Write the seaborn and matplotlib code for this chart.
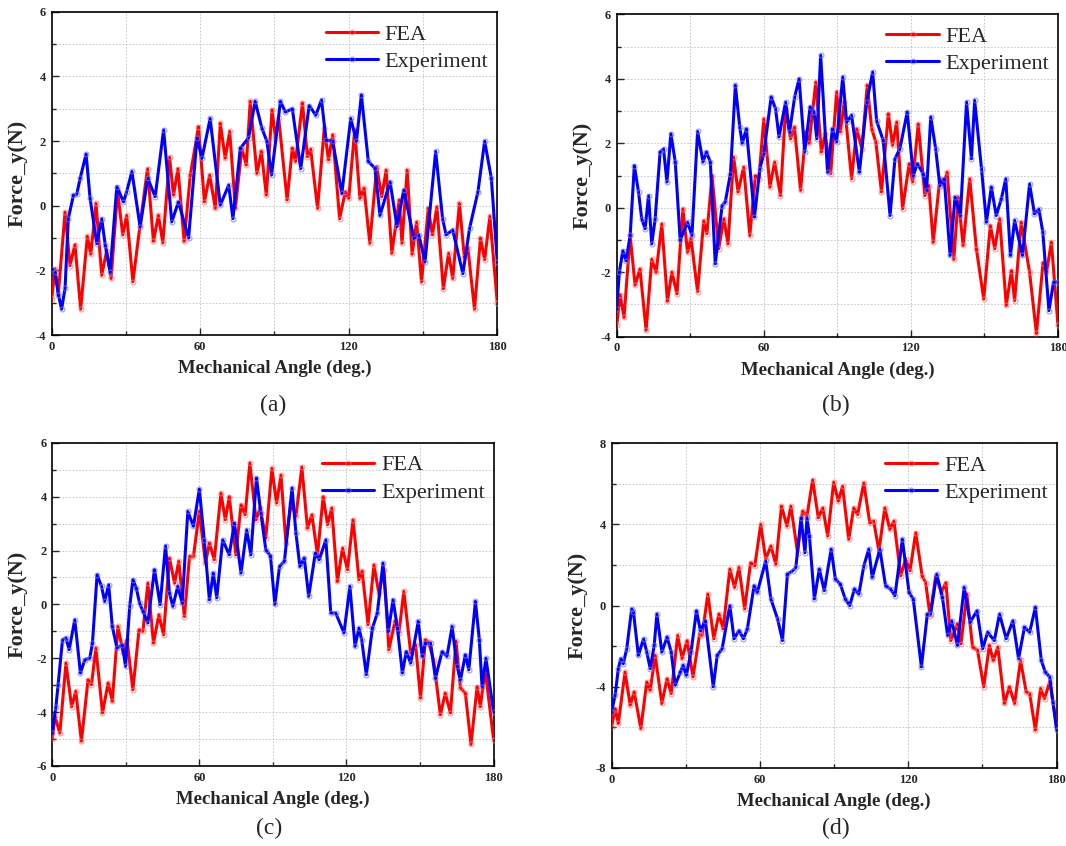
import pandas as pd
import matplotlib
matplotlib.use('Agg')
import matplotlib.pyplot as plt
import seaborn as sns
from matplotlib.ticker import MultipleLocator

# ---- data (peaks / troughs) ----
# (a)
fea_a_x = [0, 1.3, 2.7, 5.4, 7.4, 9.4, 11.7, 14.4, 15.8, 17.9, 20.2, 22.2, 24.0, 26.6, 28.7, 30.3, 32.8, 35.7,
           38.7, 41.1, 43.1, 44.9, 47.6, 49.2, 51.0, 53.5, 56.0, 59.3, 61.7, 63.8, 66.1, 68.1, 70.1, 71.9, 74.2,
           76.8, 78.6, 80.2, 82.9, 84.7, 86.7, 89.0, 90.4, 91.7, 95.1, 97.2, 98.5, 101.3, 103.3, 104.6, 107.4,
           110.1, 111.8, 113.5, 116.3, 118.6, 120.0, 122.4, 124.5, 126.2, 128.5, 131.3, 133.3, 135.1, 137.4,
           140.4, 141.5, 143.6, 145.6, 147.4, 149.4, 152.1, 153.8, 155.6, 158.2, 160.3, 162.0, 164.7, 166.7,
           168.1, 170.8, 173.2, 174.9, 177.0, 180]
fea_a_y = [-2.9, -1.95, -2.7, -0.2, -1.85, -1.2, -3.2, -0.95, -1.5, 0.07, -2.15, -1.4, -2.25, 0.45, -0.9, -0.3,
           -2.35, -0.6, 1.15, -1.1, -0.3, -1.15, 1.5, 0.33, 1.15, -1.1, 0.95, 2.45, 0.12, 0.95, -0.08, 2.55, 1.47,
           2.3, -0.08, 1.78, 1.26, 3.23, 1.0, 1.68, 0.33, 2.97, 2.1, 2.7, 0.18, 1.78, 1.37, 3.18, 1.52, 1.75, -0.08,
           2.4, 1.42, 2.2, -0.4, 0.43, 0.23, 2.35, 0.23, 0.54, -1.16, 1.21, 0.28, 1.1, -1.47, 0.18, -1.16, 1.1,
           -1.5, -0.5, -2.36, -0.08, -0.9, -0.03, -2.57, -1.47, -2.25, 0.07, -1.6, -1.3, -3.2, -1.0, -1.67, -0.33,
           -3.0]
exp_a_x = [0, 1.3, 2.7, 4.0, 5.4, 6.7, 8.8, 10.1, 11.5, 13.9, 15.5, 18.2, 20.2, 21.6, 23.6, 26.3, 29.0, 30.3,
           32.4, 35.7, 38.8, 41.8, 45.2, 48.5, 51.2, 55.3, 58.7, 60.7, 64.0, 68.1, 71.5, 73.2, 76.2, 79.5, 82.2,
           84.9, 86.9, 88.8, 92.4, 94.4, 97.2, 100.6, 104.0, 106.7, 109.0, 110.8, 113.5, 117.2, 120.8, 123.1,
           125.1, 127.9, 130.6, 132.6, 136.7, 139.5, 142.2, 146.3, 148.3, 150.8, 155.1, 157.9, 159.3, 162.0,
           166.1, 168.8, 172.2, 174.9, 177.6, 180]
exp_a_y = [-1.95, -2.05, -2.75, -3.2, -2.55, -0.4, 0.33, 0.35, 0.85, 1.6, 0.23, -1.17, -0.4, -1.2, -2.05, 0.59,
           0.12, 0.44, 1.06, -0.65, 0.85, 0.28, 2.35, -0.5, 0.12, -1.0, 2.1, 1.47, 2.7, 0.02, 0.64, -0.4, 1.78,
           2.1, 3.23, 2.4, 2.0, 0.95, 3.23, 2.9, 3.0, 1.15, 3.1, 2.8, 3.28, 2.03, 2.0, 0.38, 2.7, 2.0, 3.43, 1.37,
           1.16, -0.3, 0.74, -0.65, 0.49, -1.0, -0.9, -1.74, 1.68, -0.4, -0.9, -0.75, -2.1, -0.7, 0.44, 2.0,
           0.85, -1.74]

# (b)
fea_b_x = [0, 1.4, 3.0, 5.5, 7.5, 9.5, 12.0, 14.3, 16.1, 18.4, 20.7, 22.5, 24.6, 27.0, 28.9, 30.3, 33.0, 35.5,
           36.8, 38.9, 41.6, 43.7, 45.4, 47.7, 49.5, 51.8, 54.3, 56.6, 58.0, 60.0, 62.5, 64.4, 66.8, 68.9, 70.9,
           72.5, 75.0, 77.1, 78.5, 81.2, 83.5, 85.0, 87.3, 89.7, 91.2, 92.8, 95.8, 97.9, 100.0, 102.2, 104.0,
           105.7, 108.0, 110.8, 112.5, 114.2, 116.6, 119.3, 120.7, 123.0, 125.7, 127.3, 129.1, 131.8, 133.2,
           134.8, 137.5, 139.3, 141.3, 144.0, 146.7, 149.7, 152.4, 154.2, 156.2, 158.9, 161.0, 162.3, 165.0,
           168.4, 171.2, 173.9, 175.3, 177.3, 180]
fea_b_y = [-3.65, -2.7, -3.4, -0.86, -2.4, -1.9, -3.8, -1.6, -2.0, -0.5, -2.9, -2.0, -2.67, -0.03, -1.38, -0.95,
           -2.6, -0.4, -0.8, 1.0, -1.27, -0.34, -1.12, 1.57, 0.49, 1.26, -0.86, 1.0, 0.9, 2.76, 0.64, 1.42, 0.38,
           3.07, 2.14, 2.5, 0.54, 2.35, 2.0, 3.9, 1.73, 2.3, 1.06, 3.6, 2.35, 3.28, 0.9, 2.45, 1.83, 3.8, 2.45,
           2.04, 0.49, 2.92, 1.94, 2.66, -0.03, 1.37, 0.8, 2.6, 0.38, 0.69, -1.07, 0.9, 0.7, 1.1, -1.6, 0.33,
           -1.17, 0.9, -1.27, -2.83, -0.55, -1.27, -0.34, -3.03, -1.95, -2.88, -0.45, -2.0, -3.9, -1.7, -2.0,
           -1.07, -3.65]
exp_b_x = [0, 1.1, 2.5, 3.8, 5.5, 7.2, 8.9, 10.2, 11.6, 13.0, 14.3, 15.7, 17.7, 19.1, 20.5, 22.1, 23.9, 25.9,
           28.9, 30.7, 33.0, 35.2, 36.6, 38.2, 40.2, 43.0, 44.3, 46.4, 48.4, 50.2, 51.2, 52.9, 56.2, 58.4, 60.0,
           63.0, 64.8, 66.2, 68.9, 70.5, 72.6, 74.4, 76.7, 78.9, 80.5, 81.6, 83.2, 86.0, 88.0, 89.7, 92.2, 93.8,
           95.8, 99.0, 102.0, 104.4, 106.0, 108.7, 111.5, 113.5, 115.5, 118.5, 121.0, 122.6, 125.0, 126.4, 128.1,
           130.1, 131.8, 133.6, 136.0, 138.0, 140.2, 142.7, 144.7, 146.0, 148.8, 150.8, 152.8, 154.8, 156.9,
           158.7, 160.6, 162.3, 165.5, 168.4, 170.4, 172.2, 173.8, 176.3, 178.2, 180]
exp_b_y = [-3.14, -2.0, -1.33, -1.64, -0.86, 1.31, 0.49, -0.34, -0.65, 0.38, -1.12, -0.34, 1.73, 1.83, 0.8, 2.3,
           1.42, -1.0, -0.45, -0.86, 2.37, 1.42, 1.73, 1.42, -1.74, 0.07, 0.18, 1.06, 3.8, 2.5, 2.0, 2.45, -0.29,
           1.21, 1.68, 3.44, 3.07, 2.2, 3.28, 2.35, 3.44, 4.0, 1.73, 3.13, 2.97, 2.14, 4.73, 1.1, 2.45, 2.04, 4.06,
           2.66, 2.87, 1.1, 3.28, 4.21, 2.7, 2.09, -0.24, 1.52, 1.83, 2.97, 1.0, 1.37, 1.06, 0.54, 2.82, 1.83,
           0.69, 0.9, -1.48, 0.33, -0.24, 3.28, 1.52, 3.33, 1.21, -0.45, 0.64, -0.24, 0.28, 0.9, -1.48, -0.39,
           -1.48, 0.74, -0.19, -0.05, -0.75, -3.19, -2.3, -2.3]

# (c)
fea_c_x = [0, 1.1, 3.1, 5.6, 7.9, 9.6, 11.9, 14.6, 16.0, 17.8, 20.5, 22.8, 24.5, 26.8, 28.9, 30.5, 32.9, 35.4,
           37.0, 39.0, 41.3, 43.5, 45.4, 47.8, 49.9, 51.6, 53.9, 56.0, 57.6, 60.0, 62.5, 64.1, 66.1, 68.8, 70.6,
           72.2, 74.9, 77.0, 78.7, 80.6, 83.1, 84.8, 87.1, 89.6, 91.5, 93.3, 95.3, 97.4, 99.4, 101.8, 104.1,
           105.9, 108.2, 110.5, 112.3, 114.0, 116.3, 118.4, 120.4, 122.7, 125.1, 126.4, 128.8, 131.2, 133.2,
           135.3, 137.3, 139.8, 141.4, 143.4, 146.2, 148.2, 150.2, 152.2, 153.5, 155.6, 158.3, 160.3, 162.4,
           164.7, 166.5, 168.5, 170.8, 173.3, 174.6, 176.6, 180]
fea_c_y = [-5.0, -4.15, -4.78, -2.18, -3.8, -3.23, -5.08, -2.8, -2.98, -1.62, -4.03, -2.92, -3.6, -0.82, -1.8,
           -1.31, -3.17, -0.94, -1.0, 0.79, -1.44, -0.38, -1.13, 1.72, 0.79, 1.6, -0.45, 1.78, 1.78, 3.45, 1.53,
           2.28, 1.66, 4.13, 3.14, 4.0, 1.84, 3.7, 3.33, 5.25, 3.14, 3.58, 2.46, 5.05, 3.76, 4.8, 2.28, 3.76, 3.27,
           5.1, 2.83, 3.33, 1.84, 4.0, 2.96, 3.58, 0.85, 2.09, 1.29, 3.14, 0.92, 1.23, -0.75, 1.47, 0.42, 1.29,
           -1.68, -0.63, -1.06, 0.48, -1.8, -1.5, -3.48, -1.31, -1.4, -2.1, -4.1, -3.3, -4.03, -1.37, -3.1, -3.3,
           -5.2, -3.05, -3.8, -2.43, -5.02]
exp_c_x = [0, 1.5, 2.4, 4.2, 5.6, 6.9, 9.2, 11.5, 13.3, 15.3, 16.4, 18.3, 20.1, 21.4, 23.0, 24.5, 26.4, 28.6,
           29.9, 31.6, 32.9, 34.3, 35.6, 37.0, 39.0, 41.7, 44.0, 46.2, 47.8, 49.2, 51.2, 53.0, 55.3, 57.6, 60.0,
           62.0, 64.1, 65.7, 67.1, 69.5, 72.2, 74.3, 77.0, 79.3, 81.0, 83.3, 85.1, 87.1, 89.0, 90.8, 92.7, 94.7,
           97.8, 99.4, 101.0, 102.8, 104.6, 107.3, 108.9, 111.6, 113.6, 115.6, 119.0, 121.4, 123.5, 125.1, 126.2,
           128.1, 130.6, 132.6, 134.9, 137.1, 139.0, 140.8, 142.8, 144.4, 146.2, 149.3, 150.9, 152.2, 154.3,
           156.3, 159.0, 161.0, 163.1, 165.1, 166.5, 168.5, 169.9, 172.6, 174.2, 175.3, 176.9, 180]
exp_c_y = [-4.78, -3.8, -2.98, -1.31, -1.25, -1.68, -0.57, -2.55, -2.05, -2.0, -1.44, 1.1, 0.67, 0.11, 0.73,
           -0.82, -1.62, -1.5, -2.3, -0.07, 0.92, 0.6, 0.05, -0.26, -0.69, 1.29, -0.01, 2.18, 0.42, -0.07, 0.67,
           0.05, 3.45, 2.9, 4.28, 2.4, 0.17, 1.16, 0.24, 2.4, 1.84, 3.02, 1.16, 2.77, 1.84, 4.69, 3.39, 2.03, 1.8,
           0.0, 1.41, 1.6, 4.32, 2.65, 1.41, 1.72, 0.3, 1.9, 1.66, 2.4, -0.32, -0.32, -1.06, 0.67, -1.56, -0.88,
           -1.31, -2.61, -0.88, -0.32, 1.53, -1.0, 0.17, -0.88, -2.55, -1.75, -2.18, -0.63, -1.93, -1.44, -1.44,
           -2.74, -1.75, -1.93, -0.82, -2.3, -2.8, -1.87, -2.43, 0.11, -1.31, -3.05, -2.0, -3.98]

# (d)
fea_d_x = [0, 1.4, 2.7, 5.4, 7.5, 9.1, 11.8, 14.2, 15.6, 17.6, 20.3, 22.4, 24.1, 26.7, 28.5, 30.5, 32.9, 35.6,
           36.6, 38.9, 41.3, 43.4, 45.1, 47.8, 49.7, 51.5, 53.8, 56.2, 57.9, 60.3, 62.3, 64.4, 66.4, 68.7, 70.9,
           72.5, 75.2, 77.2, 79.0, 81.3, 83.6, 85.4, 87.4, 89.8, 91.7, 93.4, 95.9, 97.9, 99.5, 102.0, 104.4,
           106.0, 108.1, 110.5, 112.5, 114.2, 116.9, 118.9, 120.7, 123.0, 125.6, 127.0, 128.8, 131.1, 133.4,
           135.2, 137.2, 139.9, 141.3, 143.7, 146.0, 148.0, 150.5, 152.8, 154.4, 156.2, 158.9, 160.9, 163.0,
           165.4, 167.7, 169.1, 171.4, 173.5, 175.1, 177.2, 180]
fea_d_y = [-5.96, -5.07, -5.8, -3.27, -4.9, -4.25, -6.05, -3.76, -4.17, -2.45, -4.82, -3.6, -4.33, -1.47, -2.6,
           -1.72, -3.51, -1.39, -1.47, 0.57, -1.63, -0.41, -1.14, 1.8, 0.9, 1.88, -0.16, 2.12, 1.96, 4.0, 2.29,
           2.94, 2.04, 4.9, 3.92, 4.9, 2.61, 4.66, 4.41, 6.2, 4.33, 4.82, 3.43, 6.08, 5.15, 5.88, 3.27, 4.82, 4.49,
           6.05, 4.08, 4.17, 2.7, 4.82, 3.76, 4.17, 1.47, 2.29, 1.72, 3.6, 1.47, 1.14, -0.49, 1.47, 0.65, 1.14,
           -1.72, -0.9, -1.88, 0.57, -2.04, -2.2, -4.0, -1.96, -2.7, -2.04, -4.82, -4.0, -4.82, -2.7, -4.25,
           -4.33, -6.13, -4.08, -4.58, -3.76, -5.88]
exp_d_x = [0, 1.4, 2.7, 3.7, 4.7, 6.1, 8.1, 8.8, 10.8, 12.9, 14.2, 15.6, 17.2, 18.3, 20.3, 22.4, 24.1, 25.7,
           27.8, 28.9, 30.2, 32.1, 34.3, 35.9, 37.9, 41.1, 42.7, 44.7, 47.8, 49.5, 51.5, 53.3, 54.9, 57.6, 58.9,
           62.3, 64.4, 67.1, 69.1, 71.1, 73.2, 74.5, 76.6, 78.2, 79.0, 80.0, 82.0, 84.0, 86.0, 88.8, 90.5, 92.5,
           94.5, 96.3, 98.2, 100.0, 102.0, 104.0, 105.4, 108.5, 110.8, 112.8, 114.6, 117.6, 120.3, 122.0, 125.3,
           127.7, 129.0, 131.5, 133.8, 135.9, 137.5, 139.9, 142.6, 145.0, 147.8, 150.1, 152.1, 154.8, 156.9,
           159.6, 162.3, 164.6, 167.0, 169.1, 171.4, 173.8, 175.4, 177.2, 178.5, 180]
exp_d_y = [-5.23, -4.41, -3.1, -2.61, -2.86, -2.12, -0.16, -0.3, -2.45, -1.63, -2.29, -3.1, -1.96, -0.41, -2.29,
           -1.55, -2.29, -3.92, -3.27, -2.94, -3.43, -2.29, -0.25, -1.23, -0.74, -4.0, -2.45, -2.12, 0.0, -1.63,
           -1.23, -1.63, -1.14, 0.98, 0.65, 2.2, 0.33, -0.65, -1.72, 1.55, 1.72, 1.88, 4.33, 2.61, 4.33, 3.43,
           0.33, 1.8, 0.74, 2.78, 1.31, 1.06, 0.33, 0.0, 0.82, 0.57, 1.96, 2.78, 1.39, 2.78, 0.98, 0.82, 0.49,
           3.27, 0.65, 0.33, -3.02, -0.41, -0.41, 1.55, 0.41, -1.47, -0.74, -1.96, 0.9, -0.82, -0.25, -2.12,
           -1.31, -1.72, -0.41, -1.63, -0.74, -2.61, -1.06, -1.31, -0.08, -2.7, -3.27, -3.51, -4.74, -6.13]

panel_labels = ['(a)', '(b)', '(c)', '(d)']
y_limits = [(-4, 6), (-4, 6), (-6, 6), (-8, 8)]
y_major = [2, 2, 2, 4]

sns.set_theme(style='ticks')
plt.rcParams['font.family'] = ['Liberation Serif', 'DejaVu Serif']
plt.rcParams['axes.unicode_minus'] = False

fig = plt.figure(figsize=(10.66, 8.46), dpi=100)

# axes rectangles in figure fractions
rects = [[0.0485, 0.604, 0.418, 0.382],
         [0.5785, 0.602, 0.414, 0.381],
         [0.049, 0.0946, 0.414, 0.382],
         [0.5738, 0.0922, 0.4174, 0.3838]]
caption_pos = [(0.256, 0.521), (0.784, 0.521), (0.252, 0.021), (0.784, 0.021)]

panels = [(fea_a_x, fea_a_y, exp_a_x, exp_a_y),
          (fea_b_x, fea_b_y, exp_b_x, exp_b_y),
          (fea_c_x, fea_c_y, exp_c_x, exp_c_y),
          (fea_d_x, fea_d_y, exp_d_x, exp_d_y)]

for i, (fx, fy, ex, ey) in enumerate(panels):
    ax = fig.add_axes(rects[i])
    df = pd.concat([pd.DataFrame({'angle': fx, 'force': fy, 'series': 'FEA'}),
                    pd.DataFrame({'angle': ex, 'force': ey, 'series': 'Experiment'})])
    sns.lineplot(data=df[df.series == 'FEA'], x='angle', y='force', ax=ax, color='#ff0000', lw=2.2,
                 marker='o', ms=3.5, mfc='none', mec=(1, 0.45, 0.45, 0.7), mew=0.8, label='FEA', zorder=3)
    sns.lineplot(data=df[df.series == 'Experiment'], x='angle', y='force', ax=ax, color='#0000ff', lw=2.2,
                 marker='o', ms=3.5, mfc='none', mec=(0.45, 0.45, 1, 0.7), mew=0.8, label='Experiment', zorder=4)

    ax.set_xlim(0, 180)
    ax.set_ylim(*y_limits[i])
    ax.xaxis.set_major_locator(MultipleLocator(60))
    ax.xaxis.set_minor_locator(MultipleLocator(30))
    ax.yaxis.set_major_locator(MultipleLocator(y_major[i]))
    ax.yaxis.set_minor_locator(MultipleLocator(y_major[i] / 2))
    ax.grid(True, which='both', ls=(0, (2, 2)), lw=0.6, color='#c0c0c0')
    ax.tick_params(which='both', direction='in', top=False, right=False, width=1.0,
                   labelsize=9, pad=4)
    ax.tick_params(which='major', length=5)
    ax.tick_params(which='minor', length=3)
    for lab in ax.get_xticklabels() + ax.get_yticklabels():
        lab.set_fontweight('bold')
    for sp in ax.spines.values():
        sp.set_linewidth(1.2)
        sp.set_color('black')

    ax.set_xlabel('Mechanical Angle (deg.)', fontsize=13.5, fontweight='bold', labelpad=5)
    ax.set_ylabel('Force_y(N)', fontsize=16, fontweight='bold', labelpad=6)
    ax.legend(loc='upper right', bbox_to_anchor=(1.0, 0.99), frameon=False, fontsize=16,
              handlelength=2.35, handletextpad=0.3, labelspacing=0.3, borderpad=0.3,
              borderaxespad=0.1)

    fig.text(caption_pos[i][0], caption_pos[i][1], panel_labels[i], ha='center', va='center', fontsize=17)

fig.savefig('out.png', dpi=100)
